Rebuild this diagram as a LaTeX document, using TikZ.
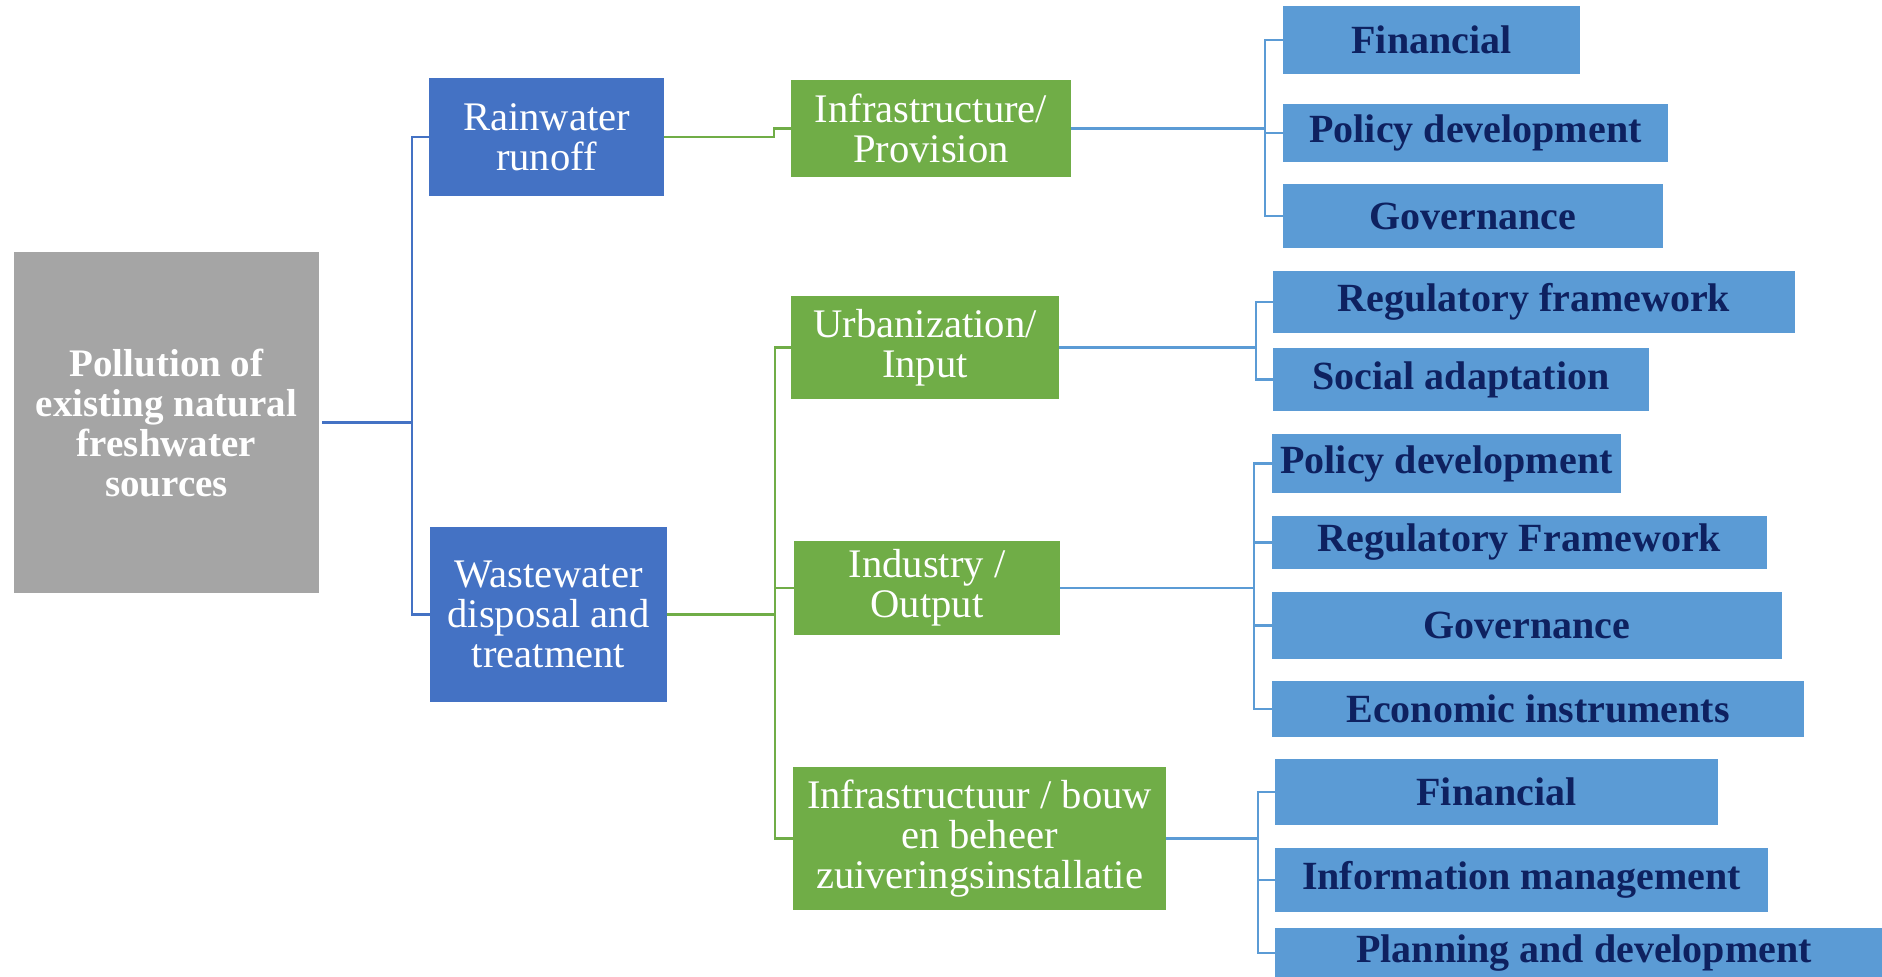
\documentclass[tikz,border=0pt]{standalone}
\usepackage{fontspec}
\setmainfont{Liberation Serif}
\definecolor{cgrey}{HTML}{A5A5A5}
\definecolor{cdark}{HTML}{4472C4}
\definecolor{cgreen}{HTML}{70AD47}
\definecolor{clight}{HTML}{5B9BD5}
\definecolor{cnavy}{HTML}{0E2160}
% box from corner (#3,#4) to corner (#5,#6), in pixel units
\newcommand\pxbox[7]{\node[#2, minimum width={(#5-#3)*0.5pt}, minimum height={(#6-#4)*0.5pt}] (#1) at ({(#3+#5)/2},{(#4+#6)/2}) {#7};}
\begin{document}
\begin{tikzpicture}[x=0.5pt,y=-0.5pt,
  box/.style={rectangle, inner sep=0pt, align=center, text=white},
  rootbox/.style={box, fill=cgrey, font=\fontsize{19.5}{20}\selectfont\bfseries},
  srcbox/.style={box, fill=cdark, font=\fontsize{20.3}{20}\selectfont},
  grnbox/.style={box, fill=cgreen, font=\fontsize{20.3}{20}\selectfont},
  leaf/.style={box, fill=clight, text=cnavy, font=\fontsize{20}{22}\selectfont\bfseries},
  lndark/.style={draw=cdark, line width=1.3pt},
  lngreen/.style={draw=cgreen, line width=1.3pt},
  lnlight/.style={draw=clight, line width=1.3pt}]
\useasboundingbox (0,0) rectangle (1882,976);
\clip (0,0) rectangle (1882,976);

% root and sources
\pxbox{root}{rootbox}{14}{252}{319}{593}{Pollution of\\existing natural\\freshwater\\sources}
\pxbox{rain}{srcbox}{429}{78}{664}{196}{Rainwater\\runoff}
\pxbox{waste}{srcbox}{430}{527}{667}{702}{Wastewater\\disposal and\\treatment}

% second level
\pxbox{infra}{grnbox}{791}{80}{1071}{177}{Infrastructure/\\Provision}
\pxbox{urb}{grnbox}{791}{296}{1059}{399}{Urbanization/\\Input}
\pxbox{ind}{grnbox}{794}{541}{1060}{635}{Industry /\\Output}
\pxbox{zuiv}{grnbox}{793}{767}{1166}{910}{Infrastructuur / bouw\\en beheer\\zuiveringsinstallatie}

% leaves of Infrastructure/Provision
\pxbox{fin1}{leaf}{1283}{6}{1580}{74}{Financial}
\pxbox{pol1}{leaf}{1283}{104}{1668}{162}{Policy development}
\pxbox{gov1}{leaf}{1283}{184}{1663}{248}{Governance}
% leaves of Urbanization/Input
\pxbox{reg1}{leaf}{1273}{271}{1795}{333}{Regulatory framework}
\pxbox{soc}{leaf}{1273}{348}{1649}{411}{Social adaptation}
% leaves of Industry/Output
\pxbox{pol2}{leaf}{1272}{434}{1621}{493}{Policy development}
\pxbox{reg2}{leaf}{1272}{516}{1767}{569}{Regulatory Framework}
\pxbox{gov2}{leaf}{1272}{592}{1782}{659}{Governance}
\pxbox{eco}{leaf}{1272}{681}{1804}{737}{Economic instruments}
% leaves of Infrastructuur
\pxbox{fin2}{leaf}{1275}{759}{1718}{825}{Financial}
\pxbox{info}{leaf}{1275}{848}{1768}{912}{Information management}
\pxbox{plan}{leaf}{1275}{928}{1893}{978}{Planning and development}

% bus positions
\coordinate (busA) at (412,0);
\coordinate (busB) at (774,0);
\coordinate (busC) at (775,0);
\coordinate (busD) at (1265,0);
\coordinate (busE) at (1256,0);
\coordinate (busF) at (1254,0);
\coordinate (busG) at (1258,0);

% root to sources
\draw[lndark] ([xshift=1.5pt]root.east) -- (root.east -| busA);
\draw[lndark] (rain.west) -| (busA |- waste.west) -- (waste.west);

% sources to second level
\draw[lngreen] (rain.east) -- (rain.east -| busB) |- (infra.west);
\draw[lngreen] (waste.east) -- (waste.east -| busC);
\draw[lngreen] (urb.west) -| (busC |- zuiv.west) -- (zuiv.west);
\draw[lngreen] (ind.west) -- (ind.west -| busC);

% second level to leaves
\draw[lnlight] (infra.east) -- (infra.east -| busD);
\draw[lnlight] (fin1.west) -| (busD |- gov1.west) -- (gov1.west);
\draw[lnlight] (pol1.west) -- (pol1.west -| busD);

\draw[lnlight] (urb.east) -- (urb.east -| busE);
\draw[lnlight] (reg1.west) -| (busE |- soc.west) -- (soc.west);

\draw[lnlight] (ind.east) -- (ind.east -| busF);
\draw[lnlight] (pol2.west) -| (busF |- eco.west) -- (eco.west);
\draw[lnlight] (reg2.west) -- (reg2.west -| busF);
\draw[lnlight] (gov2.west) -- (gov2.west -| busF);

\draw[lnlight] (zuiv.east) -- (zuiv.east -| busG);
\draw[lnlight] (fin2.west) -| (busG |- plan.west) -- (plan.west);
\draw[lnlight] (info.west) -- (info.west -| busG);
\end{tikzpicture}
\end{document}
